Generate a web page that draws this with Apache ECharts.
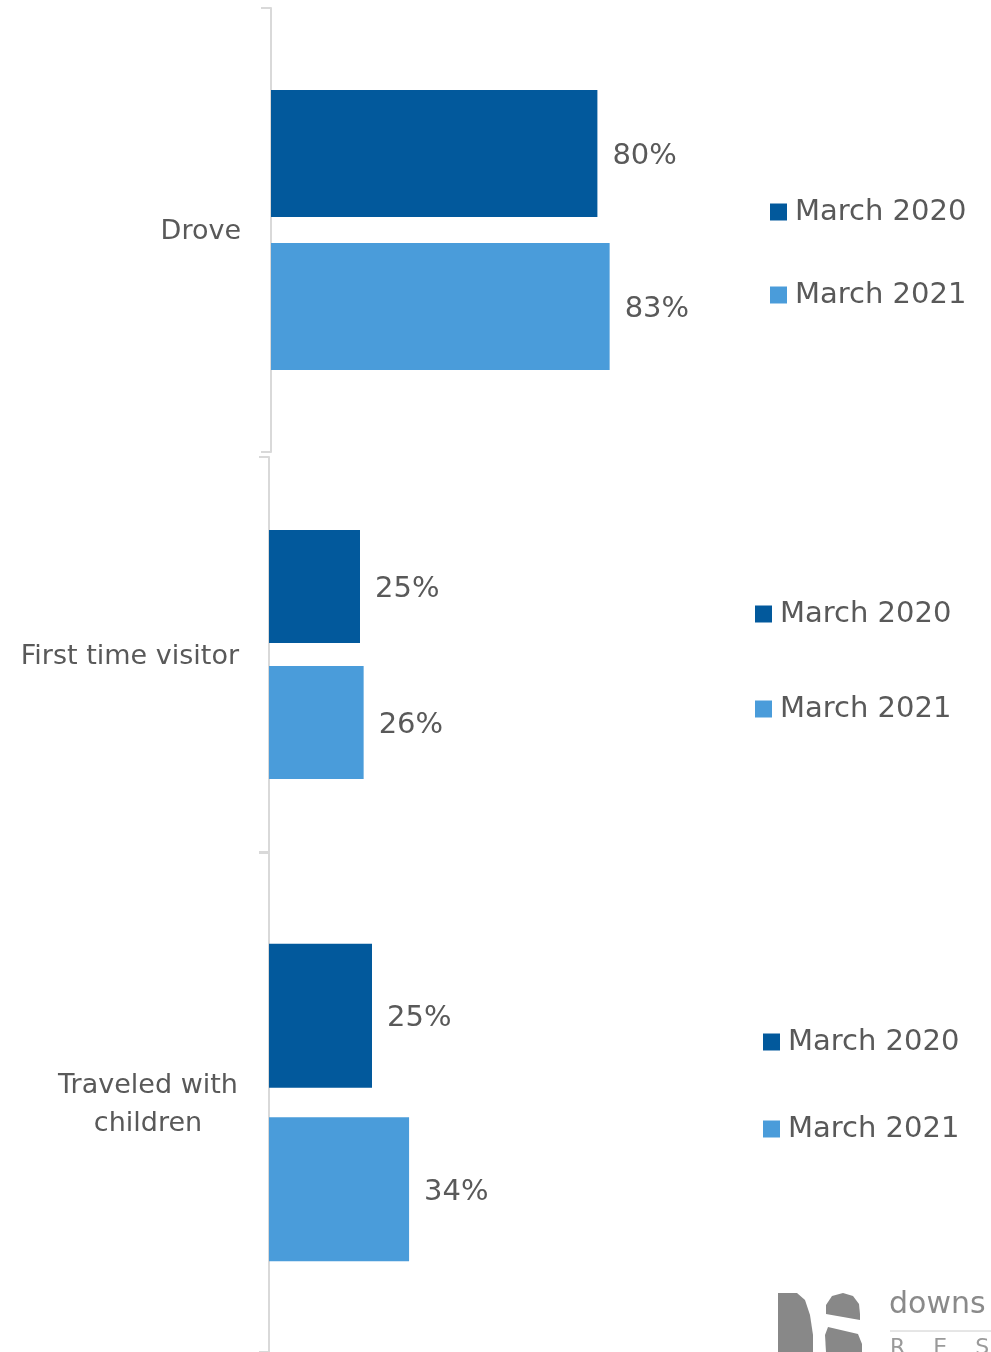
<!DOCTYPE html>
<html><head><meta charset="utf-8">
<script src="https://cdn.jsdelivr.net/npm/echarts@6/dist/echarts.min.js"></script>
<style>html,body{margin:0;padding:0;background:#fff}#c{width:991px;height:1352px}</style>
</head><body><div id="c"></div>
<script>
const categories = ['Drove', 'First time visitor', 'Traveled with\nchildren'];
const seriesNames = ['March 2020', 'March 2021'];
const march2020 = [80, 25, 25];
const march2021 = [83, 26, 34];

const FONT = 'DejaVu Sans';
const TXT = '#595959';
const colors = ['#02599C', '#4A9CDA'];

// per-panel layout
const panels = [
  {top: 8, height: 444, left: 271, width: 408, barWidth: 127, barGap: '20.5%', legend: {left: 770, top: 197, gap: 53}},
  {top: 457, height: 395, left: 269, width: 364, barWidth: 113, barGap: '20.5%', legend: {left: 755, top: 599, gap: 65}},
  {top: 853, height: 499, left: 269, width: 412, barWidth: 144, barGap: '20.5%', legend: {left: 763, top: 1027, gap: 57}}
];

const grid = [], xAxis = [], yAxis = [], series = [], legend = [];
panels.forEach((p, i) => {
  grid.push({left: p.left, top: p.top, width: p.width, height: p.height, containLabel: false});
  xAxis.push({type: 'value', gridIndex: i, min: 0, max: 100, show: false});
  const rich = {a: {fontFamily: FONT, fontSize: 27, color: TXT, lineHeight: 38, align: 'center'}};
  if (i === 2) rich.a.width = 182;
  yAxis.push({
    type: 'category', gridIndex: i, data: [categories[i]], inverse: true,
    axisLine: {show: true, lineStyle: {color: '#D9D9D9', width: 2}},
    axisTick: {show: true, length: 10, lineStyle: {color: '#D9D9D9', width: 2}},
    axisLabel: {
      margin: 30, color: TXT, fontFamily: FONT, fontSize: 27, padding: [4, 0, 0, 0],
      formatter: v => v.split('\n').map(s => '{a|' + s + '}').join('\n'),
      rich
    }
  });
  [march2020, march2021].forEach((arr, s) => {
    series.push({
      type: 'bar', name: seriesNames[s], xAxisIndex: i, yAxisIndex: i,
      data: [arr[i]], barWidth: p.barWidth, barGap: p.barGap,
      itemStyle: {color: colors[s]},
      label: {show: true, position: 'right', distance: 15, offset: [0, 3], formatter: '{c}%',
              color: TXT, fontFamily: FONT, fontSize: 29},
      emphasis: {disabled: true}
    });
  });
  legend.push({
    orient: 'vertical', left: p.legend.left, top: p.legend.top, itemGap: p.legend.gap,
    padding: 0, itemWidth: 17, itemHeight: 17, icon: 'rect',
    data: seriesNames,
    textStyle: {color: TXT, fontFamily: FONT, fontSize: 29, lineHeight: 30, padding: [0, 0, 0, 3]}
  });
});

const chart = echarts.init(document.getElementById('c'), null, {renderer: 'canvas'});
chart.setOption({
  animation: false,
  grid, xAxis, yAxis, series, legend,
  graphic: [
    // DS logo (approximate)
    {type: 'polygon', shape: {points: [[778,1293],[797,1293],[805,1300],[810,1315],[813,1335],[813,1352],[778,1352]]}, style: {fill: '#888888'}},
    {type: 'polygon', shape: {points: [[843,1293],[853,1296],[859,1304],[860,1314],[860,1320],[826,1314],[826,1305],[832,1296]]}, style: {fill: '#888888'}},
    {type: 'polygon', shape: {points: [[828,1327],[858,1334],[862,1344],[862,1352],[826,1352],[825,1335]]}, style: {fill: '#888888'}},
    {type: 'text', left: 889, top: 1290, style: {text: 'downs', fill: '#8a8a8a', font: '30px "DejaVu Sans"'}},
    {type: 'line', shape: {x1: 890, y1: 1331, x2: 991, y2: 1331}, style: {stroke: '#cccccc', lineWidth: 1}},
    {type: 'text', left: 890, top: 1337, style: {text: 'R    E    S', fill: '#9a9a9a', font: '22px "DejaVu Sans"'}}
  ]
});
</script></body></html>
